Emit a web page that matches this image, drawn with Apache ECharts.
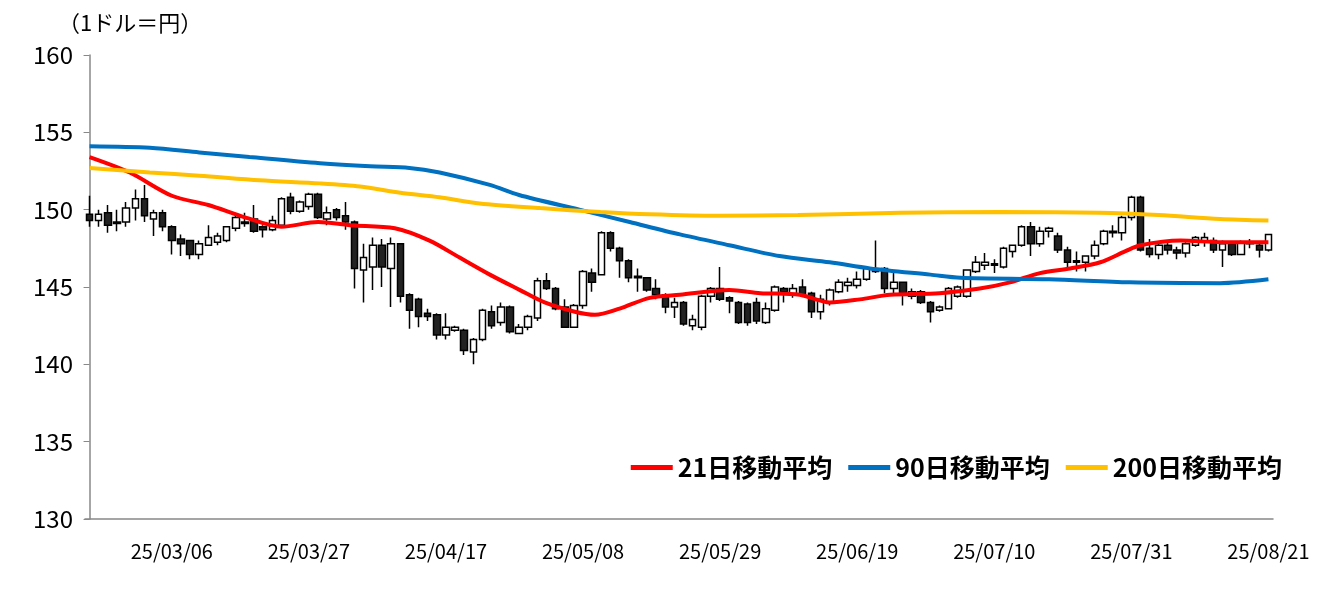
<!DOCTYPE html>
<html><head><meta charset="utf-8">
<script src="https://cdn.jsdelivr.net/npm/echarts@6/dist/echarts.min.js"></script>
<style>html,body{margin:0;padding:0;background:#fff}#c{width:1337px;height:591px}</style>
</head><body><div id="c"></div>
<script>
const dates = (function(){const d=[];const s=new Date(Date.UTC(2025,1,21));const e=new Date(Date.UTC(2025,7,21));for(let t=s;t<=e;t=new Date(t.getTime()+864e5)){const w=t.getUTCDay();if(w>0&&w<6){d.push(String(t.getUTCFullYear()).slice(2)+'/'+String(t.getUTCMonth()+1).padStart(2,'0')+'/'+String(t.getUTCDate()).padStart(2,'0'));}}return d;})();
// [open, close, low, high]
const ohlc = [
[149.7,149.3,148.9,150.9],[149.3,149.7,148.9,150.0],[149.8,149.0,148.5,150.3],[149.1,149.2,148.6,150.0],[149.2,150.1,148.9,150.5],
[150.1,150.7,149.3,151.3],[150.7,149.6,149.2,151.6],[149.4,149.8,148.3,150.0],[149.8,148.9,148.6,150.0],[148.9,148.0,147.1,149.0],
[148.1,147.8,147.0,148.4],[148.0,147.1,146.8,148.0],[147.1,147.8,146.8,148.0],[147.7,148.2,147.7,149.0],[147.9,148.3,147.7,148.5],
[148.0,148.9,147.9,148.9],[148.8,149.5,148.6,149.6],[149.1,149.2,148.9,149.8],[149.4,148.6,148.5,150.3],[148.9,148.7,148.2,149.0],
[148.7,149.3,148.6,149.6],[149.0,150.7,149.0,150.8],[150.8,149.9,149.7,151.1],[149.9,150.5,149.8,150.6],[150.2,151.0,150.0,151.1],
[151.0,149.5,149.4,151.1],[149.4,149.8,149.0,150.2],[150.0,149.5,149.3,150.1],[149.6,149.2,148.7,150.5],[149.2,146.2,144.9,149.3],
[146.1,146.9,144.0,147.8],[146.3,147.7,144.8,148.2],[147.7,146.3,145.0,148.1],[146.2,147.8,143.7,148.2],[147.8,144.4,144.0,147.8],
[144.5,143.5,142.3,144.6],[144.2,143.1,142.4,144.3],[143.3,143.1,142.8,143.6],[143.2,141.9,141.6,143.3],[141.9,142.4,141.6,143.3],
[142.2,142.4,142.1,142.5],[142.2,140.9,140.6,142.3],[140.8,141.6,140.0,141.7],[141.6,143.5,141.5,143.6],[143.4,142.5,142.3,143.8],
[142.7,143.7,142.5,144.0],[143.7,142.1,142.0,143.8],[142.0,142.4,142.0,142.6],[142.4,143.1,142.2,143.2],[143.0,145.4,142.8,145.6],
[145.4,144.9,144.8,145.9],[144.9,143.6,143.5,145.0],[143.7,142.4,142.4,144.2],[142.4,143.8,142.4,143.9],[143.8,146.0,143.6,146.1],
[145.9,145.3,144.7,146.2],[145.8,148.5,145.8,148.6],[148.5,147.5,147.3,148.6],[147.5,146.7,145.6,147.6],[146.7,145.6,145.3,146.8],
[145.7,145.6,144.7,146.2],[145.6,144.8,144.7,145.6],[144.9,144.5,144.2,145.5],[144.5,143.7,143.3,144.6],[143.7,144.0,143.0,144.3],
[144.0,142.6,142.5,144.1],[142.5,142.9,142.2,143.2],[142.4,144.4,142.2,144.5],[144.4,144.9,144.0,145.0],[144.9,144.2,144.1,146.3],
[144.3,144.1,143.3,144.4],[144.0,142.7,142.6,144.1],[143.9,142.7,142.5,144.0],[144.0,142.8,142.6,144.3],[142.7,143.6,142.6,144.0],
[143.5,145.0,143.4,145.1],[144.9,144.7,144.0,145.0],[144.5,144.9,144.3,145.2],[145.0,144.5,144.4,145.5],[144.6,143.4,143.0,144.7],
[143.4,144.2,142.9,144.5],[144.0,144.8,143.8,144.9],[144.7,145.3,144.6,145.5],[145.1,145.3,144.7,145.6],[145.1,145.5,144.9,146.0],
[145.5,146.2,145.4,146.3],[146.0,146.1,145.9,148.0],[146.2,144.9,144.6,146.3],[144.9,145.3,144.5,145.9],[145.3,144.6,143.8,145.3],
[144.4,144.7,144.2,144.9],[144.7,144.0,143.9,144.8],[144.0,143.4,142.7,144.1],[143.5,143.7,143.4,143.8],[143.6,144.9,143.6,145.0],
[144.4,145.0,144.3,145.1],[144.4,146.1,144.3,146.1],[146.0,146.6,145.9,147.0],[146.4,146.6,146.1,147.2],[146.5,146.4,145.9,146.8],
[146.3,147.5,146.2,147.6],[147.3,147.7,146.9,147.7],[147.7,148.9,147.6,149.0],[148.9,147.8,147.0,149.2],[147.8,148.6,147.6,148.9],
[148.6,148.8,148.2,148.9],[148.3,147.4,147.2,148.5],[147.4,146.6,146.2,147.6],[146.7,146.6,146.0,147.3],[146.6,147.0,146.0,147.0],
[147.0,147.7,146.8,148.0],[147.8,148.6,147.7,148.7],[148.5,148.6,148.2,149.0],[148.5,149.5,148.0,149.6],[149.5,150.8,149.3,150.9],
[150.8,147.4,147.3,150.9],[147.5,147.1,146.9,148.1],[147.1,147.7,146.8,147.8],[147.7,147.4,147.1,148.0],[147.4,147.2,146.8,147.6],
[147.2,147.8,146.9,147.9],[147.7,148.2,147.6,148.3],[147.9,148.2,147.6,148.5],[148.0,147.4,147.2,148.2],[147.4,147.8,146.3,148.0],
[147.8,147.1,147.0,147.9],[147.1,147.9,147.1,148.0],[147.9,147.8,147.5,148.1],[147.7,147.4,146.9,147.8],[147.4,148.4,147.3,148.4]
];
// moving averages: [day index, value]
const ma21 = [[0,153.4],[4.4,152.4],[9,150.9],[13,150.3],[17,149.5],[21,148.9],[25,149.2],[28.5,149.0],[33.4,148.8],[37.2,148.0],[40.5,146.9],[43.8,145.8],[47.1,144.8],[49.8,144.0],[53.1,143.4],[55.3,143.2],[58,143.6],[61.3,144.3],[64.6,144.5],[70,144.8],[73.4,144.6],[77.7,144.5],[81,144.0],[84.3,144.2],[87.6,144.5],[93,144.6],[97.4,144.9],[100.7,145.3],[104,145.9],[107.3,146.2],[110.6,146.6],[113.3,147.3],[115,147.7],[119.4,148.0],[123.8,147.9],[129,147.9]];
const ma90 = [[0,154.1],[6.6,154.0],[12,153.7],[17.5,153.4],[25.2,153.0],[30.7,152.8],[35,152.7],[38.3,152.4],[43.8,151.6],[47,150.95],[53.6,150.0],[59.1,149.2],[64.6,148.4],[70,147.7],[75.5,147.0],[81,146.6],[85.4,146.2],[92,145.8],[95.3,145.6],[105,145.5],[113.8,145.3],[123.7,145.25],[129,145.5]];
const ma200 = [[0,152.7],[6.6,152.4],[12,152.2],[18.6,151.9],[25.2,151.7],[29.6,151.5],[34,151.1],[38.3,150.8],[42.7,150.4],[49.3,150.1],[55.9,149.85],[61.3,149.7],[68.8,149.6],[77.5,149.65],[88.7,149.8],[99.6,149.85],[110.5,149.8],[117,149.65],[123.7,149.4],[129,149.3]];
const seriesNames = ['21日移動平均','90日移動平均','200日移動平均'];
const colors = ['#FF0000','#0070C0','#FFC000'];
const yTicks = [130,135,140,145,150,155,160];

const F = '"Noto Sans CJK JP", sans-serif';
const chart = echarts.init(document.getElementById('c'));
const lineS = (name,data,color)=>({name,type:'line',xAxisIndex:1,data,smooth:0.3,showSymbol:false,lineStyle:{width:4,color},itemStyle:{color},z:3});
chart.setOption({
  animation:false,
  grid:{left:85,right:64,top:55,bottom:72},
  graphic:[{type:'text',left:58,top:12,style:{text:'（1ドル＝円）',font:'22px '+F,fill:'#000'}}],
  legend:{data:seriesNames.map((n,i)=>({name:n,icon:'rect'})),right:50,top:450,itemWidth:42,itemHeight:5,itemGap:16,
    textStyle:{fontFamily:F,fontSize:25,fontWeight:'bold',color:'#000'}},
  xAxis:[{type:'category',data:dates,boundaryGap:true,
    axisLine:{lineStyle:{color:'#888',width:1.5}},
    axisTick:{interval:(i)=>(i-10)%15===0&&i>0,length:7,lineStyle:{color:'#888'}},
    axisLabel:{interval:(i)=>(i-9)%15===0,margin:22,fontFamily:F,fontSize:20,color:'#000'}},
    {type:'value',min:-0.5,max:129.5,show:false}],
  yAxis:{type:'value',min:130,max:160,interval:5,
    axisLine:{show:true,lineStyle:{color:'#888',width:1.5}},axisTick:{show:true,length:6,lineStyle:{color:'#888'}},splitLine:{show:false},
    axisLabel:{fontFamily:F,fontSize:24,color:'#000',margin:12,formatter:v=>yTicks.includes(v)?String(v):''}},
  series:[
    {type:'candlestick',data:ohlc,barWidth:7,z:2,
     itemStyle:{color:'#ffffff',color0:'#222222',borderColor:'#000',borderColor0:'#000',borderWidth:1.5}},
    lineS(seriesNames[0],ma21,colors[0]),
    lineS(seriesNames[1],ma90,colors[1]),
    lineS(seriesNames[2],ma200,colors[2])
  ]
});
</script></body></html>
